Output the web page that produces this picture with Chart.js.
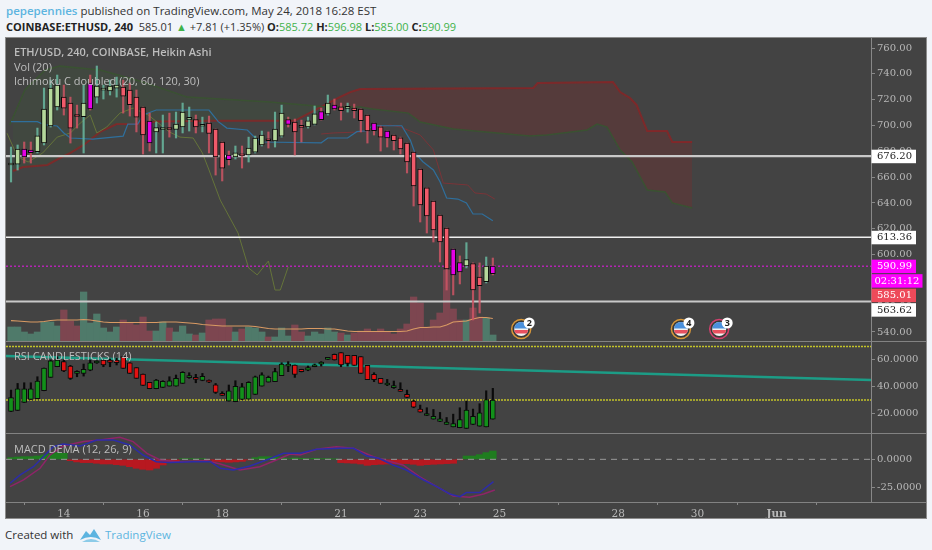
<!DOCTYPE html>
<html>
<head>
<meta charset="utf-8">
<title>ETH/USD</title>
<script src="https://cdn.jsdelivr.net/npm/chart.js@4/dist/chart.umd.min.js"></script>
<style>
  html, body { margin: 0; padding: 0; background: #f1f4f9; width: 932px; height: 550px; overflow: hidden; font-family: 'Open Sans', sans-serif; }
  #head1, #head2, #foot, #brand, .title { position: absolute; white-space: pre; }
  #head1 { left: 6px; top: 3px; font-size: 11.5px; color: #333; }
  #head1 b { color: #5db4e0; font-weight: 600; }
  #head2 { left: 6px; top: 19px; font-size: 11px; color: #333; }
  #head2 b { font-weight: 700; color: #222; }
  #head2 i { font-style: normal; color: #3fb24a; }
  #frame { position: absolute; left: 5px; top: 37px; width: 920px; height: 480px; background: #434343; border: 1px solid #8c8c8c; }
  canvas { position: absolute; left: 6px; }
  .sep { position: absolute; left: 6px; width: 920px; height: 1px; background: #828282; }
  .title { left: 14px; font-size: 11px; color: #bdbdbd; }
  #foot { left: 5px; top: 527px; font-size: 11.5px; color: #333; }
  #brand { left: 105px; top: 527px; font-size: 11.5px; color: #5db4e0; }
  #logo { position: absolute; left: 79px; top: 527px; }
</style>
</head>
<body>
<div id="head1"><b>pepepennies</b> published on TradingView.com, May 24, 2018 16:28 EST</div>
<div id="head2"><b>COINBASE:ETHUSD, 240</b>  585.01 <i>▲</i> +7.81 (+1.35%) <b>O:</b><i>585.72</i> <b>H:</b><i>596.98</i> <b>L:</b><i>585.00</i> <b>C:</b><i>590.99</i></div>
<div id="frame"></div>
<canvas id="price" width="920" height="303" style="top:38px;width:920px;height:303px"></canvas>
<canvas id="rsi" width="920" height="91" style="top:342px;width:920px;height:91px"></canvas>
<canvas id="macd" width="920" height="84" style="top:434px;width:920px;height:84px"></canvas>
<div class="sep" style="top:341px"></div>
<div class="sep" style="top:433px"></div>
<div class="sep" style="top:502px"></div>
<div class="title" style="top:44px;font-weight:600">ETH/USD, 240, COINBASE, Heikin Ashi</div>
<div class="title" style="top:59px">Vol (20)</div>
<div class="title" style="top:73px">Ichimoku C doubled (20, 60, 120, 30)</div>
<div class="title" style="top:348px">RSI CANDLESTICKS (14)</div>
<div class="title" style="top:441px">MACD DEMA (12, 26, 9)</div>
<div id="foot">Created with</div>
<div id="brand">TradingView</div>
<svg id="logo" width="24" height="16" viewBox="0 0 24 16"><path d="M1 13 L7 4 L11 8 L15 2 L22 13 Q12 7 1 13Z" fill="#5db4e0"/><path d="M3 15 Q12 9 21 15Z" fill="#8ccbe8"/></svg>

<script>
// candles, one entry per 4h bar
const candleOpen = [669.4,670.1,681.8,681,679.7,686.4,699.6,714.3,722,717.4,708,706.8,732.9,722,727.4,726.7,729,729.8,727.5,722,714.3,703.5,695,696.9,697.3,696.9,698.8,704.8,704.6,699.4,701.9,697.3,687.2,677.1,675.6,676.9,677.1,679.4,684.9,689,688,691.8,704.5,702.7,699,698.8,700.9,710.7,708.9,715.8,714.5,713.3,713.5,712.8,708.1,701.9,699,695.7,692.6,690.5,686.4,679.4,666.3,651.6,641.5,630.6,620.6,604.3,593.7,591.1,593,582.6,579,591.1]
const candleHigh = [683.3,684.9,687.2,687.2,698,729,735.2,739.1,731.3,722,715.8,731.3,739.1,746.1,731.3,735.2,737.5,735.2,732.9,727.5,714.3,709.6,702.7,708.1,709.6,710.4,717.4,714.3,708.1,706.5,707.3,697.3,687.2,680.2,684.1,684.1,691,691.8,695.7,695,710.4,715.8,706.5,705,704.2,706.5,715.1,713.5,723.6,720.5,717.4,717.4,716.6,712.8,708.1,701.9,699.6,695.7,692.6,691,686.4,679.4,666.3,651.6,641.5,630.6,620.6,604.3,598.9,609.2,593.5,593.5,598.1,597.3]
const candleLow = [656.2,665.5,670.9,670.9,678.7,684.9,698.8,712,708.1,686.4,698,678.7,712,717.4,720.5,723.6,722,709.6,707.3,695,677.9,680.2,678.7,678.7,691,690.3,694.2,695.7,694.2,695,678.7,661.6,657,669.4,674,667,671.7,678.7,684.1,682.5,683.3,691,698.8,677.1,687.2,698,700.4,704.2,708.1,712,704.2,710.4,705.8,695,686.4,692.6,680.2,683.3,681,677.9,663.2,637.6,625.2,616.7,609.7,594.2,572.5,568.7,577.2,589.6,549.3,554.7,578,584.2]
const candleClose = [670.5,681.8,675.6,679,692,712.8,729,731.3,713.5,698,707,717.4,712.8,730.6,728,730.6,731.3,722.8,716.2,706.5,692.6,686.4,698.4,697.3,696.9,701.1,710.4,705.2,698.8,699.8,693.8,675.6,667,673.6,678.9,676.5,682.5,690.3,692.6,688.2,697.3,709.6,700.9,695,698.6,703.7,709.1,704.5,717.4,712.8,711.4,713.7,711.4,703.7,695.7,695.9,691,690.3,688.2,681.8,671.7,653.1,638.4,629.9,619,609.7,588.8,584.2,586.5,596,572.5,575.9,591.1,585.2]
const magentaBars = [2,3,12,21,33,42,47,49,55,57,67,68,73]

// volume, chart units; red flags the down bars
const volume = [14,14,9,7,9,19,19,15,31,20,15,49,18,27,13,9,14,21,18,16,24,10,10,19,13,9,15,7,6,8,21,22,22,14,9,12,14,13,9,4,4,13,5,16,9,5,9,7,13,9,8,6,8,10,12,9,12,9,7,12,17,44,38,14,21,28,71,32,21,21,33,24,23,6]
const volumeDown = [8,9,10,17,18,19,20,21,24,28,30,31,32,33,35,39,43,44,50,52,53,54,55,56,57,58,59,60,61,62,63,64,65,66,67,68,70,71]
const volumeMa = [20.3,20,19.5,19,19,19.5,20.5,21,21,21,21,21.5,21,20,19,18.5,18.5,18.5,18.5,18.5,18.5,18.5,18.5,19,19,19,18.5,18,17.5,16.5,16,15.5,15,15,15,15,15,14.5,13.5,12.5,12,12,12,12,12,12.5,12.5,12.5,12,12,11,10,9.5,9.5,9.5,9.5,9.5,9.5,9.5,9.5,10,12,13.5,13.5,14,14,16,19,19.5,20,22,23.5,23.5,22.5]

// ichimoku lines, vertices only: bar position + price
const conversionAt = [0,4,5,7,8,9,12.4,17,17.7,19.2,20,22,30,31.4,32.7,35.8,37,38.2,47,48,51,52.4,54,54.7,59.2,60.5,61.2,62.4,64,65,66,67.7,69,70,71.4,73]
const conversion = [703,703,700.6,699.6,694.2,690.3,689.5,691.8,701.1,701.1,708.1,712,712,703,698,696.5,690.3,687.2,686.6,690.3,690.3,695.2,695.9,699.8,699.8,688.7,678.7,671.9,665.5,656.4,643.8,643,639.9,631.4,631.4,626.2]
const baseAt = [47,48.8,53,57.4,59,62,64,65.5,69.2,70.3,72,73.3]
const base = [693.4,694.2,695,700.4,698.8,692.6,681,655.4,653.9,647.7,646.9,643]
const laggingAt = [-0.6,1,2.6,4.8,7,9,10.5,12,13,14.5,16.5,18.5,20.8,24,25.6,27.6,29,30,31.7,34.4,36,37.3,39,40,40.8,42]
const lagging = [694,675.6,671.7,678.7,691,694.2,701.9,708.1,694.2,698.8,709.6,713.5,708.1,695,691,690.3,678.7,665.5,642.2,616.7,589.6,584.2,595,572.5,572.5,590.4]
const spanAAt = [-0.2,2.1,5.2,7.4,13.5,20,26.7,39.2,48,52.9,54.8,60.2,62,67,78.6,81.2,87.3,88.8,90.3,92.3,94.1,96.4,99.1,100.2,103.2]
const spanA = [700.4,727.5,743,746,743,733.7,722,718.2,714.3,714.3,712.8,709.6,702.7,697.3,691.8,692.6,696.5,701.1,698.8,681,671.7,650,648.5,640,636]
const spanBAt = [0.3,1.8,5.5,7.4,9,11,13.5,16,19,22,30.6,43,49.8,51.4,52.9,79.1,79.8,91.2,92.3,93.8,94.8,96.4,99.4,100.2,103.2]
const spanB = [664.7,667.8,669.4,674.8,678.7,684.9,695,701.1,701.1,703,703.7,703.7,722,725.9,728.2,729,732.9,733.7,725.9,721.3,715.8,695.7,695.7,687.2,687.2]

const levelValues = [676.20, 613.36, 563.62]
const lastClose = 590.99
const lastPrice = 585.01
const priceTicks = [540,560,580,600,620,640,660,680,700,720,740,760]
const eventBars = [77.3, 101.5, 107.3]
const eventCounts = ['2', '4', '3']
const eventRings = ['#d9983a', '#d9983a', '#d2406e']
const eventPrice = 542.3

// rsi candles
const rsiOpen = [21.4,22.2,28.2,30.4,30.9,36.9,46.9,54.9,58.7,55.4,49.9,49.9,52.4,57.7,59.9,59.9,59.9,62.4,57.9,54.2,49.4,43.2,38.4,39.4,40.4,40.4,42.4,46.7,46.7,44.7,44.7,41.4,34.7,29.2,28.7,30.4,30.7,34.2,40.4,43.4,43.7,48.2,55.4,56.2,52.9,52.4,54.9,56.9,60.4,64.2,65.4,63.4,63.4,62.4,55.9,49.2,46.2,41.2,39.2,37.9,34.2,29.2,23.2,18.4,15.7,13.9,11.7,9.9,9.2,8.7,11.7,10.4,9.9,15.7]
const rsiHigh = [37.4,42.4,42.9,42.9,47.4,53.9,59.9,62.4,59.9,55.9,51.9,56.9,59.9,59.4,59.9,60.7,61.2,62.4,57.9,54.2,49.4,43.2,45.4,44.4,47.4,48.7,51.2,50.4,49.2,49.9,45,42.4,36.2,41.2,44.4,42.4,43.7,47.9,50.4,47.9,53.7,57.9,58.7,56.2,53,55.4,56.9,58.7,61,64.4,65.4,63.4,63.4,62.4,55.9,50.4,46.2,45.4,44.2,42.9,37.4,29.9,26.2,24.2,22.9,20.7,16.9,19.4,24.2,29.2,23.2,27.2,36.9,38.7]
const rsiLow = [21.4,22.2,28.2,30.4,30.9,36.9,46.9,54.9,51.2,45.4,47.4,47.9,51.9,57.4,54.9,54.9,56.2,53.7,49.9,46.2,40.9,38.4,38.4,39.4,40.4,40.4,42.4,46.2,42.9,44.4,43,34.9,33.4,29.2,28.7,30.4,30.7,34.2,40.4,43.4,43.7,48.2,51.2,46.9,51,51.9,54.9,55.4,60.4,59.9,54.9,55.4,55.9,49.9,45.2,43.7,42.4,40.7,38.7,36.4,31.9,24.2,20.9,18.4,15.7,13.9,11.7,9.9,9.2,8.7,11.7,10.4,9.9,15.7]
const rsiClose = [31.9,38.4,38.4,38.4,44.2,53.9,59.4,59.9,51.7,46.2,50,52.9,57.9,58.2,56.2,58.2,57.9,53.7,49.9,46.2,40.9,38.4,44.9,43.9,44.4,46.2,50.7,47.9,45.4,47.7,43.4,35.7,33.4,36.9,40.2,39.9,43.2,47.4,48.9,46.9,51.2,56.9,55.5,49.2,51.2,54.2,56.4,57.9,60.9,59.9,56.2,57.4,55.9,49.9,45.2,45.2,42.4,42.4,40.4,36.4,31.9,24.7,20.9,19.9,17.7,15.9,13.4,12.4,15.4,22.4,17.7,20.4,30.4,29.9]
const rsiBands = [70, 30]
const rsiTrend = [62.9, 45]
const rsiTicks = [20, 40, 60]

// macd
const macdAt = [-0.15,1.4,3.4,4.9,6.4,7.9,10.5,13,15.5,18,20,22,24.1,27.6,30.2,31.7,33.7,36.2,38.7,41.3,43.8,46.3,49.8,51.9,53.9,55.7,57.9,59.9,62.5,64.5,66.5,68,69,71,73.1]
const macd = [-21.1,-13.8,-6.5,2.3,11.1,13.5,11.7,17,17,12.6,3.8,-2.1,-2.9,-2.1,-2.1,-7.9,-9.4,-5.9,-0.6,5.3,5.3,8.8,9.7,9.7,2.9,0.9,-5,-9.4,-18.2,-24.1,-30.5,-32.9,-29.3,-29.3,-19.7]
const signalAt = [-0.15,1.9,4.4,5.9,7.9,11,13.5,16.5,18.5,20.6,22.6,25.1,29.7,31.7,34.7,37.7,40.2,42.3,43.8,46.3,49.3,51.9,54.9,57,59.4,61.9,64.5,67,69.5,71.6,73.3]
const signal = [-24.1,-18.2,-7.9,3.8,11.7,15.6,17,19.4,15.6,5.3,-0.6,-2.1,-1.2,-4.1,-9.4,-6.5,-0.6,4.7,3.8,8.8,11.1,9.7,2.3,-1.2,-5,-15.3,-24.1,-32.3,-33.4,-30.5,-27]
const histogram = [1.5,2,2.3,2.3,2.9,3.8,4.7,5.9,5.3,-1.2,-2.3,-2.9,-2.9,-3.5,-4.1,-4.1,-4.7,-5.3,-6.5,-7.9,-8.8,-9.4,-7.9,-5,-2.3,-1.2,0.6,0.6,0.3,0.6,-0.6,-1.8,-2.3,-2.6,-2.3,-1.8,-0.6,1.5,2.3,2.3,2,1.5,0.6,1.2,0.9,0.6,0.9,0.6,0.6,0.3,-2.9,-3.2,-3.5,-4.1,-5.3,-4.7,-4.4,-4.1,-4.1,-3.8,-3.8,-4.4,-5.3,-4.7,-4.4,-4.1,-3.8,-3.5,-0.3,2.9,2.9,4.1,5.9,7.3]
const macdTicks = [0, -25]

const timeTicks = [8,20,32,50,62,74,92,104,116]
const timeLabels = ['14','16','18','21','23','25','28','30','Jun']

const xMin = -0.76, xMax = 130.3
const axisFont = { family: "'DejaVu Serif', serif", size: 10 }
const axisColor = '#888'

Chart.defaults.animation = false
Chart.defaults.responsive = false
Chart.defaults.plugins.legend.display = false
Chart.defaults.plugins.tooltip.enabled = false

function noPadding(s) {
  s.paddingTop = 0; s.paddingBottom = 0; s.paddingLeft = 0; s.paddingRight = 0
}

function hiddenX() {
  return { type: 'linear', display: false, offset: false, min: xMin, max: xMax }
}

function rightAxis(min, max, ticks, digits) {
  return {
    position: 'right', min, max,
    grid: { drawOnChartArea: false, color: axisColor, tickLength: 4 },
    border: { color: axisColor },
    ticks: { color: '#b8b8b8', font: axisFont, padding: 2, autoSkip: false, callback: v => v.toFixed(digits) },
    afterBuildTicks: s => { s.ticks = ticks.map(value => ({ value })) },
    afterFit: s => { s.width = 55; noPadding(s) }
  }
}

function pairs(xs, ys) {
  return xs.map((x, i) => ({ x, y: ys[i] }))
}

function line(data, color, width, order, extra) {
  return Object.assign({ type: 'line', data, borderColor: color, borderWidth: width, pointRadius: 0, tension: 0, fill: false, order }, extra)
}

function flat(value, color, width, order, extra) {
  return line([{ x: xMin, y: value }, { x: xMax, y: value }], color, width, order, extra)
}

// a candle is two floating bars: the wick and the body on top of it
function candles(open, high, low, close, bodyColor, wickColor, order) {
  const wicks = {
    type: 'bar', order: order + 1, grouped: false, barThickness: 1.5,
    data: high.map((h, i) => ({ x: i, y: [low[i], h] })),
    backgroundColor: wickColor
  }
  const bodies = {
    type: 'bar', order, grouped: false, barThickness: 5, minBarLength: 2,
    data: open.map((o, i) => ({ x: i, y: [o, close[i]] })),
    backgroundColor: bodyColor,
    borderColor: '#0a0a0a', borderWidth: 1, borderSkipped: false
  }
  return [wicks, bodies]
}

const pricePlugin = {
  id: 'priceTags',
  afterDraw(chart) {
    const { ctx, scales: { x, y }, chartArea } = chart
    const tags = [
      { v: levelValues[0], text: '676.20', bg: '#fff', fg: '#222' },
      { v: levelValues[1], text: '613.36', bg: '#fff', fg: '#222' },
      { v: lastClose, text: '590.99', bg: '#ff00ff', fg: '#fff' },
      { v: lastPrice, text: '02:31:12', bg: '#ff00ff', fg: '#fff', wide: true },
      { v: lastPrice, text: '585.01', bg: '#ee4a5a', fg: '#fff' },
      { v: levelValues[2], text: '563.62', bg: '#fff', fg: '#222' }
    ]
    ctx.save()
    ctx.font = "10px 'DejaVu Serif', serif"
    ctx.textBaseline = 'middle'
    let bottom = -99
    tags.forEach(t => {
      const top = Math.max(y.getPixelForValue(t.v) - 6.5, bottom + 1)
      bottom = top + 13.5
      ctx.fillStyle = t.bg
      ctx.fillRect(chartArea.right + 0.5, top, t.wide ? 51 : 44.5, 13.5)
      ctx.fillStyle = t.fg
      ctx.textAlign = 'left'
      ctx.fillText(t.text, chartArea.right + (t.wide ? 3.5 : 6), top + 7)
    })
    eventBars.forEach((b, i) => {
      const cx = x.getPixelForValue(b), cy = y.getPixelForValue(eventPrice)
      ctx.beginPath(); ctx.arc(cx, cy, 9.5, 0, Math.PI * 2)
      ctx.fillStyle = '#3a3a3a'; ctx.fill()
      ctx.lineWidth = 1.5; ctx.strokeStyle = eventRings[i]; ctx.stroke()
      ctx.save()
      ctx.beginPath(); ctx.arc(cx, cy, 7, 0, Math.PI * 2); ctx.clip()
      ctx.fillStyle = '#f2f2f2'; ctx.fillRect(cx - 8, cy - 8, 16, 16)
      ctx.fillStyle = '#e8505f'; ctx.fillRect(cx - 8, cy + 1, 16, 3.5)
      ctx.fillStyle = '#4a90dc'; ctx.fillRect(cx - 8, cy - 8, 16, 7.5)
      ctx.restore()
      ctx.beginPath(); ctx.arc(cx + 8, cy - 6, 5.5, 0, Math.PI * 2)
      ctx.fillStyle = '#fff'; ctx.fill()
      ctx.fillStyle = '#222'; ctx.font = "bold 9px 'Open Sans', sans-serif"; ctx.textAlign = 'center'
      ctx.fillText(eventCounts[i], cx + 8, cy - 5.5)
    })
    ctx.restore()
  }
}

const upBody = '#b4d79b', downBody = '#f05a6a', magentaBody = '#e400e4'
const priceBody = candleClose.map((c, i) => magentaBars.includes(i) ? magentaBody : c >= candleOpen[i] ? upBody : downBody)
const priceWick = candleClose.map((c, i) => c >= candleOpen[i] ? 'rgba(104,184,160,.85)' : 'rgba(205,85,100,.85)')

new Chart(document.getElementById('price'), {
  type: 'bar',
  plugins: [pricePlugin],
  data: {
    datasets: [
      line(pairs(spanAAt, spanA), '#3a5232', 1.5, 30, { fill: { target: '+1', above: 'rgba(50,120,40,.10)', below: 'rgba(150,30,30,.22)' } }),
      line(pairs(spanBAt, spanB), '#7c2a2c', 2, 30),
      {
        type: 'bar', order: 25, yAxisID: 'vol', barPercentage: 1, categoryPercentage: 1, barThickness: 6.6,
        data: volume.map((v, i) => ({ x: i, y: v })),
        backgroundColor: volume.map((v, i) => volumeDown.includes(i) ? '#7d4650' : '#4f7a6a')
      },
      line(volumeMa.map((v, i) => ({ x: i, y: v })), '#d99a63', 1.2, 24, { yAxisID: 'vol' }),
      line(pairs(conversionAt, conversion), '#2f6f9c', 1.2, 20),
      line(pairs(baseAt, base), '#7a3438', 1, 20),
      line(pairs(laggingAt, lagging), '#65743a', 1, 20),
      flat(levelValues[0], '#c9c9c9', 2.2, 12),
      flat(levelValues[1], '#f0f0f0', 1.5, 12),
      flat(levelValues[2], '#c9c9c9', 2.2, 12),
      flat(lastClose, '#b424b4', 1.5, 12, { borderDash: [2, 2] }),
      ...candles(candleOpen, candleHigh, candleLow, candleClose, priceBody, priceWick, 2)
    ]
  },
  options: {
    layout: { padding: 0 },
    scales: {
      x: hiddenX(),
      y: rightAxis(533, 767.8, priceTicks, 2),
      vol: { display: false, min: 0, max: 303 }
    }
  }
})

const rsiBody = rsiClose.map((c, i) => c >= rsiOpen[i] ? '#12901a' : '#e21212')

new Chart(document.getElementById('rsi'), {
  type: 'bar',
  data: {
    datasets: [
      flat(rsiBands[0], '#c4c428', 1.5, 12, { borderDash: [2, 1] }),
      flat(rsiBands[1], '#c4c428', 1.5, 12, { borderDash: [2, 1] }),
      line([{ x: xMin, y: rsiTrend[0] }, { x: xMax, y: rsiTrend[1] }], '#1c9c86', 2.5, 10),
      ...candles(rsiOpen, rsiHigh, rsiLow, rsiClose, rsiBody, '#0a0a0a', 2)
    ]
  },
  options: {
    layout: { padding: 0 },
    scales: { x: hiddenX(), y: rightAxis(5.3, 73.4, rsiTicks, 4) }
  }
})

new Chart(document.getElementById('macd'), {
  type: 'bar',
  data: {
    datasets: [
      {
        type: 'bar', order: 20, barPercentage: 1, categoryPercentage: 1, barThickness: 6.8,
        data: histogram.map((v, i) => ({ x: i, y: v })),
        backgroundColor: histogram.map(v => v >= 0 ? '#1f7d1f' : '#b81820')
      },
      flat(0, '#9a9a9a', 1, 10, { borderDash: [6, 5] }),
      line(pairs(signalAt, signal), '#8e2468', 1.5, 6),
      line(pairs(macdAt, macd), '#2c2ca8', 1.5, 5)
    ]
  },
  options: {
    layout: { padding: 0 },
    scales: {
      x: {
        type: 'linear', offset: false, min: xMin, max: xMax, position: 'bottom',
        grid: { drawOnChartArea: false, color: axisColor, tickLength: 3 },
        border: { color: axisColor },
        ticks: {
          color: '#b8b8b8', padding: 3, maxRotation: 0, autoSkip: false,
          font: c => ({ family: axisFont.family, size: axisFont.size + 0.5, weight: c.tick && c.tick.value === 116 ? 'bold' : 'normal' }),
          callback: v => timeLabels[timeTicks.indexOf(v)]
        },
        afterBuildTicks: s => { s.ticks = timeTicks.map(value => ({ value })) },
        afterFit: s => { s.height = 16; noPadding(s) }
      },
      y: rightAxis(-37.6, 22.3, macdTicks, 4)
    }
  }
})
</script>
</body>
</html>
